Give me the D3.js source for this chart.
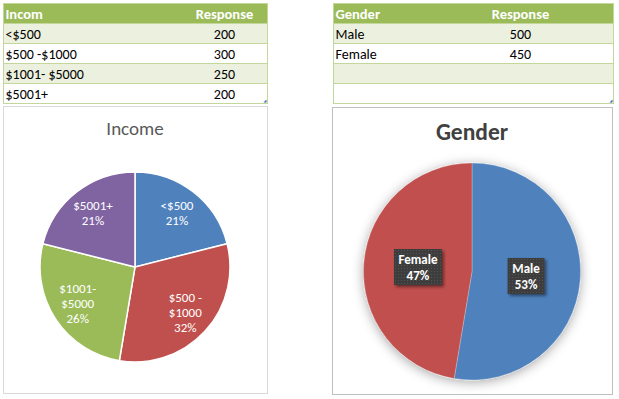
<!DOCTYPE html>
<html>
<head>
<meta charset="utf-8">
<script src="https://cdn.jsdelivr.net/npm/d3@7"></script>
<style>
  body { margin: 0; background: #fff; }
  text { font-family: Calibri, Carlito, "Open Sans", sans-serif; }
</style>
</head>
<body>
<script>
let width = 619,
  height = 399,
  rowHeight = 20

// data
let incomeCats = ['<$500', '$500 -$1000', '$1001- $5000', '$5001+']
let incomeVals = [200, 300, 250, 200]
let incomeLabels = [['<$500'], ['$500 -', '$1000'], ['$1001-', '$5000'], ['$5001+']]
let genderCats = ['Male', 'Female']
let genderVals = [500, 450]
let incomeColors = ['#4F81BD', '#C0504D', '#9BBB59', '#8064A2']
let genderColors = ['#4F81BD', '#C0504D']

let svg = d3.select('body').append('svg')
  .attr('width', width)
  .attr('height', height)

let defs = svg.append('defs')
let f1 = defs.append('filter').attr('id', 'pieShadow')
  .attr('x', '-20%').attr('y', '-20%').attr('width', '140%').attr('height', '140%')
f1.append('feDropShadow').attr('dx', 0).attr('dy', 2).attr('stdDeviation', 6)
  .attr('flood-color', '#000').attr('flood-opacity', 0.35)
let f2 = defs.append('filter').attr('id', 'boxShadow')
  .attr('x', '-30%').attr('y', '-30%').attr('width', '160%').attr('height', '160%')
f2.append('feDropShadow').attr('dx', 2).attr('dy', 2).attr('stdDeviation', 1.5)
  .attr('flood-color', '#000').attr('flood-opacity', 0.45)
let pat = defs.append('pattern').attr('id', 'dots')
  .attr('width', 3).attr('height', 3).attr('patternUnits', 'userSpaceOnUse')
pat.append('rect').attr('width', 3).attr('height', 3).attr('fill', '#3C3C3C')
pat.append('rect').attr('x', 1).attr('y', 1).attr('width', 1).attr('height', 1).attr('fill', '#555')

// tables
function drawTable(x, y, w, colX, head, cats, vals) {
  let g = svg.append('g').attr('transform', `translate(${x},${y})`)
  let rows = d3.range(4)
  g.append('rect').attr('width', w).attr('height', rowHeight)
    .attr('fill', '#9BBB59')
  g.selectAll('.row').data(rows).enter().append('rect')
    .attr('class', 'row')
    .attr('y', d => rowHeight * (d + 1))
    .attr('width', w).attr('height', rowHeight)
    .attr('fill', d => d % 2 == 0 ? '#EBF1DE' : '#fff')
  g.selectAll('.line').data(d3.range(1, 5)).enter().append('line')
    .attr('x1', 0).attr('x2', w)
    .attr('y1', d => d * rowHeight).attr('y2', d => d * rowHeight)
    .attr('stroke', '#C4D79B')
  g.append('rect').attr('width', w).attr('height', rowHeight * 5)
    .attr('fill', 'none').attr('stroke', '#C4D79B')
  g.append('path')
    .attr('d', `M${w - 1},${rowHeight * 5 - 4}L${w - 1},${rowHeight * 5 - 1}L${w - 4},${rowHeight * 5 - 1}Z`)
    .attr('fill', '#3F5FBF')

  g.append('text').attr('x', 2).attr('y', 15)
    .attr('fill', '#fff').attr('font-weight', 700).attr('font-size', 14.5)
    .text(head)
  g.append('text').attr('x', colX).attr('y', 15).attr('text-anchor', 'middle')
    .attr('fill', '#fff').attr('font-weight', 700).attr('font-size', 14.5)
    .text('Response')
  g.selectAll('.cat').data(cats).enter().append('text')
    .attr('x', 2).attr('y', (d, i) => rowHeight * (i + 1) + 15)
    .attr('font-size', 14).attr('fill', '#000')
    .text(d => d)
  g.selectAll('.val').data(vals).enter().append('text')
    .attr('x', colX).attr('y', (d, i) => rowHeight * (i + 1) + 15)
    .attr('text-anchor', 'middle')
    .attr('font-size', 14).attr('fill', '#000')
    .text(d => d)
}

drawTable(3.5, 3.5, 264, 221, 'Incom', incomeCats, incomeVals)
drawTable(333.5, 3.5, 280, 187, 'Gender', genderCats, genderVals)

// chart boxes
svg.append('rect').attr('x', 3.5).attr('y', 106.5).attr('width', 264).attr('height', 287)
  .attr('fill', '#fff').attr('stroke', '#D9D9D9')
svg.append('rect').attr('x', 332.5).attr('y', 107.5).attr('width', 280).attr('height', 287)
  .attr('fill', '#fff').attr('stroke', '#BFBFBF')

// income pie
let pie = d3.pie().sort(null).value(d => d)
let total1 = d3.sum(incomeVals)
let r1 = 95
let g1 = svg.append('g').attr('transform', 'translate(135,267)')
let arc1 = d3.arc().innerRadius(0).outerRadius(r1)
let lab1 = d3.arc().innerRadius(r1 * 0.72).outerRadius(r1 * 0.72)
let arcs1 = pie(incomeVals)

svg.append('text').attr('x', 135).attr('y', 135).attr('text-anchor', 'middle')
  .attr('font-size', 19).attr('fill', '#595959').text('Income')

g1.selectAll('path').data(arcs1).enter().append('path')
  .attr('d', arc1)
  .attr('fill', (d, i) => incomeColors[i])
  .attr('stroke', '#fff').attr('stroke-width', 1.5)

g1.selectAll('.lbl').data(arcs1).enter().append('text')
  .attr('class', 'lbl')
  .attr('transform', d => `translate(${lab1.centroid(d)})`)
  .attr('text-anchor', 'middle').attr('fill', '#fff').attr('font-size', 13)
  .each(function(d, i) {
    let lines = incomeLabels[i].concat([Math.round(d.value / total1 * 100) + '%'])
    let t = d3.select(this)
    let y0 = -(lines.length - 1) * 15 / 2 + 4
    lines.forEach((s, k) => t.append('tspan').attr('x', 0).attr('y', y0 + k * 15).text(s))
  })

// gender pie
let total2 = d3.sum(genderVals)
let r2 = 108.5
let g2 = svg.append('g').attr('transform', 'translate(472,271.5)')
let arc2 = d3.arc().innerRadius(0).outerRadius(r2)
let arcs2 = pie(genderVals)

svg.append('text').attr('x', 472).attr('y', 140).attr('text-anchor', 'middle')
  .attr('font-size', 23.5).attr('font-weight', 700).attr('fill', '#404040').text('Gender')

g2.append('g').attr('filter', 'url(#pieShadow)')
  .selectAll('path').data(arcs2).enter().append('path')
  .attr('d', arc2)
  .attr('fill', (d, i) => genderColors[i])
  .attr('stroke', '#fff').attr('stroke-opacity', 0.4).attr('stroke-width', 0.6)

let lbl2 = g2.selectAll('.lbl').data(arcs2).enter().append('g')
  .attr('transform', d => `translate(${arc2.centroid(d)})`)
lbl2.append('rect')
  .attr('x', (d, i) => i == 0 ? -18.5 : -24)
  .attr('width', (d, i) => i == 0 ? 37 : 48)
  .attr('y', -18).attr('height', 36)
  .attr('fill', 'url(#dots)').attr('filter', 'url(#boxShadow)')
lbl2.append('text').attr('text-anchor', 'middle').attr('fill', '#fff')
  .attr('font-size', 13).attr('font-weight', 700)
  .each(function(d, i) {
    let t = d3.select(this)
    t.append('tspan').attr('x', 0).attr('y', -3).text(genderCats[i])
    t.append('tspan').attr('x', 0).attr('y', 13).text(Math.round(d.value / total2 * 100) + '%')
  })
</script>
</body>
</html>
